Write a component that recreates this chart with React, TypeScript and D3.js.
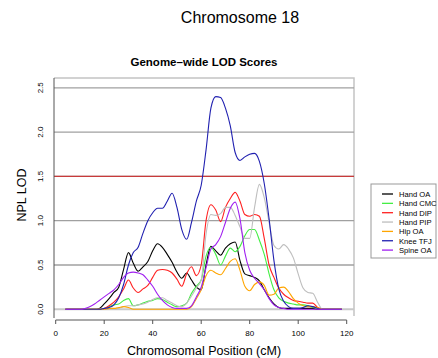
import React, { useEffect, useRef } from "react";
import * as d3 from "d3";

// positions along chromosome 18 (cM), every 2 cM
const positions = d3.range(4, 119, 2);

// NPL LOD values per phenotype, one per position
const handOA = [0,0,0,0,0,0,0,0.01,0.06,0.12,0.19,0.25,0.45,0.64,0.52,0.43,0.48,0.54,0.66,0.74,0.70,0.62,0.53,0.42,0.35,0.41,0.33,0.25,0.22,0.50,0.71,0.66,0.61,0.69,0.74,0.76,0.55,0.40,0.38,0.36,0.32,0.22,0.13,0.06,0.02,0.01,0.01,0.01,0.01,0.01,0.01,0.01,0,0,0,0,0,0];
const handCMC = [0,0,0,0,0,0,0,0,0.01,0.03,0.05,0.06,0.10,0.12,0.04,0.05,0.07,0.09,0.10,0.12,0.11,0.08,0.05,0.03,0.04,0.07,0.18,0.26,0.33,0.60,0.70,0.62,0.50,0.60,0.69,0.65,0.71,0.83,0.90,0.90,0.78,0.62,0.40,0.22,0.13,0.09,0.07,0.06,0.05,0.05,0.04,0.02,0.01,0,0,0,0,0];
const handDIP = [0,0,0,0,0,0,0,0,0.01,0.04,0.08,0.14,0.23,0.33,0.24,0.19,0.23,0.27,0.36,0.44,0.45,0.44,0.41,0.34,0.26,0.40,0.48,0.38,0.50,1.00,1.18,1.12,0.99,1.15,1.25,1.32,1.22,1.07,1.05,1.07,1.05,0.80,0.50,0.36,0.24,0.17,0.13,0.10,0.09,0.08,0.07,0.07,0.02,0,0,0,0,0];
const handPIP = [0,0,0,0,0,0,0,0,0,0,0,0.01,0.03,0.04,0.04,0.05,0.06,0.08,0.11,0.13,0.13,0.10,0.07,0.04,0.03,0.07,0.15,0.24,0.33,0.85,1.07,1.06,1.08,1.15,1.15,1.06,0.93,0.80,0.80,1.15,1.41,1.26,0.98,0.72,0.68,0.73,0.68,0.58,0.40,0.24,0.19,0.18,0.08,0,0,0,0,0];
const hipOA = [0,0,0,0,0,0,0,0,0,0.01,0.01,0.02,0.03,0.02,0,0,0,0,0,0,0,0,0,0,0,0,0.03,0.12,0.22,0.38,0.44,0.41,0.39,0.46,0.54,0.57,0.44,0.26,0.21,0.28,0.31,0.27,0.16,0.17,0.24,0.25,0.20,0.12,0.07,0.04,0.03,0.03,0.02,0,0,0,0,0];
const kneeTFJ = [0,0,0,0,0,0,0,0,0.01,0.02,0.05,0.13,0.28,0.50,0.64,0.70,0.86,1.00,1.09,1.14,1.14,1.22,1.31,1.15,0.90,0.79,0.98,1.22,1.40,1.80,2.27,2.40,2.39,2.27,2.07,1.77,1.68,1.72,1.75,1.76,1.67,1.42,1.02,0.55,0.23,0.09,0.03,0.01,0.01,0.02,0.04,0.03,0.01,0,0,0,0,0];
const spineOA = [0,0,0,0,0.01,0.03,0.06,0.10,0.14,0.18,0.22,0.28,0.36,0.41,0.42,0.41,0.39,0.33,0.26,0.17,0.10,0.05,0.02,0.01,0.01,0.01,0.04,0.14,0.25,0.47,0.68,0.73,0.82,0.98,1.14,1.21,1.02,0.64,0.44,0.35,0.29,0.22,0.12,0.05,0.02,0.01,0,0,0,0,0,0,0,0,0,0,0,0];

const seriesNames = ["Hand OA", "Hand CMC", "Hand DIP", "Hand PIP", "Hip OA", "Knee TFJ", "Spine OA"];
const seriesColors = ["#000000", "#44ee44", "#ff2020", "#bebebe", "#ffa500", "#2020b0", "#a020f0"];
const seriesValues = [handOA, handCMC, handDIP, handPIP, hipOA, kneeTFJ, spineOA];

const yTicks = [0, 0.5, 1, 1.5, 2, 2.5];
const xTicks = [0, 20, 40, 60, 80, 100, 120];
const threshold = 1.5;

const App = () => {
  const ref = useRef<SVGSVGElement>(null);

  useEffect(() => {
    const svg = d3.select(ref.current);
    svg.selectAll("*").remove();
    const font = "Liberation Sans, Arial, Helvetica, sans-serif";

    const x = d3.scaleLinear().domain([0, 120]).range([55.7, 346.7]);
    const y = d3.scaleLinear().domain([0, 2.5]).range([309.3, 87.8]);
    const left = 54, right = 354, top = 78, bottom = 316;

    // titles
    svg.append("text").attr("x", 240).attr("y", 23).attr("text-anchor", "middle")
      .attr("font-family", font).attr("font-size", 16).text("Chromosome 18");
    svg.append("text").attr("x", 204).attr("y", 66).attr("text-anchor", "middle")
      .attr("font-family", font).attr("font-size", 11.5).attr("font-weight", "bold")
      .text("Genome\u2013wide LOD Scores");

    // plot frame
    svg.append("polyline")
      .attr("points", `${left},${top} ${right},${top} ${right},${bottom}`)
      .attr("fill", "none").attr("stroke", "#c4c4c4").attr("stroke-width", 1.5);

    // grid lines
    svg.append("g").selectAll("line").data(yTicks).enter().append("line")
      .attr("x1", left).attr("x2", right)
      .attr("y1", (d) => y(d)).attr("y2", (d) => y(d))
      .attr("stroke", (d) => (d === 0 ? "#c8c8c8" : "#a0a0a0"))
      .attr("stroke-width", (d) => (d === 0 ? 2 : 1.3));

    svg.append("line").attr("x1", left).attr("x2", right)
      .attr("y1", y(threshold)).attr("y2", y(threshold))
      .attr("stroke", "#c83a3a").attr("stroke-width", 1.3);

    // left axis
    svg.append("line").attr("x1", left).attr("x2", left).attr("y1", top).attr("y2", 318)
      .attr("stroke", "#555").attr("stroke-width", 1);
    svg.append("g").selectAll("text").data(yTicks).enter().append("text")
      .attr("transform", (d) => `translate(43,${y(d)}) rotate(-90)`)
      .attr("text-anchor", "middle").attr("font-family", font).attr("font-size", 8)
      .text((d) => d.toFixed(1));

    // bottom axis
    const xAxis = svg.append("g");
    xAxis.append("line").attr("x1", x(0)).attr("x2", x(120)).attr("y1", 320).attr("y2", 320)
      .attr("stroke", "#555");
    xAxis.selectAll("line.tick").data(xTicks).enter().append("line").attr("class", "tick")
      .attr("x1", (d) => x(d)).attr("x2", (d) => x(d)).attr("y1", 320).attr("y2", 324)
      .attr("stroke", "#555");
    xAxis.selectAll("text").data(xTicks).enter().append("text")
      .attr("x", (d) => x(d)).attr("y", 336).attr("text-anchor", "middle")
      .attr("font-family", font).attr("font-size", 8).text((d) => d);

    // axis labels
    svg.append("text").attr("x", 204).attr("y", 355).attr("text-anchor", "middle")
      .attr("font-family", font).attr("font-size", 12.5).text("Chromosomal Position (cM)");
    svg.append("text").attr("transform", "translate(26,195) rotate(-90)")
      .attr("text-anchor", "middle").attr("font-family", font).attr("font-size", 12.5)
      .text("NPL LOD");

    // curves
    const line = d3.line<number>()
      .x((_, i) => x(positions[i]))
      .y((d) => y(d))
      .curve(d3.curveMonotoneX);
    seriesValues.forEach((vals, i) => {
      svg.append("path").attr("d", line(vals) as string)
        .attr("fill", "none").attr("stroke", seriesColors[i]).attr("stroke-width", 1.1);
    });

    // legend
    const lg = svg.append("g");
    lg.append("rect").attr("x", 371).attr("y", 184).attr("width", 65).attr("height", 74)
      .attr("fill", "white").attr("stroke", "#999");
    const rows = lg.selectAll("g.row").data(seriesNames).enter().append("g")
      .attr("transform", (_, i) => `translate(0,${194 + i * 9.35})`);
    rows.append("line").attr("x1", 382).attr("x2", 393).attr("y1", 0).attr("y2", 0)
      .attr("stroke", (_, i) => seriesColors[i]).attr("stroke-width", 1.3);
    rows.append("text").attr("x", 399).attr("y", 3).attr("font-family", font)
      .attr("font-size", 7.6).text((d) => d);
  }, []);

  return (
    <svg ref={ref} width={438} height={358}
      style={{ position: "absolute", left: 0, top: 0, background: "white" }} />
  );
};

export default App;
